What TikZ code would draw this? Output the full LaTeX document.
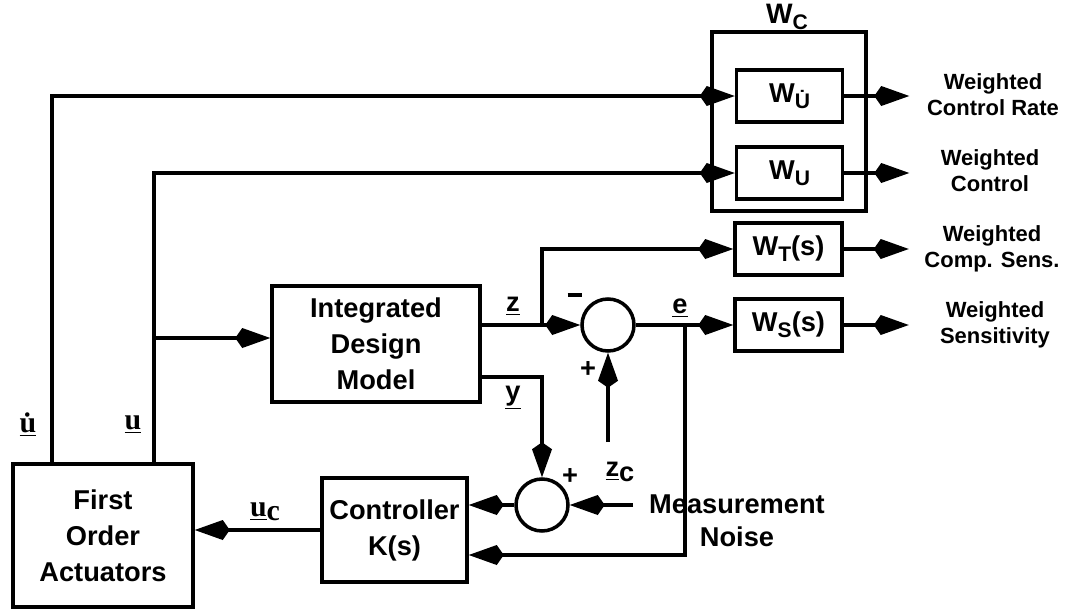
\documentclass[tikz,border=0pt]{standalone}
\usepackage{fontspec}
\setmainfont{Liberation Sans}
\newfontfamily\timesb{Liberation Serif}
\usetikzlibrary{calc,arrows.meta}
\newcommand{\wsub}[1]{W\raisebox{-0.4ex}{\fontsize{12}{12}\selectfont #1}}
\newcommand{\ulbl}[1]{{\timesb\bfseries\fontsize{17}{17}\selectfont\underline{#1}}}
\newcommand{\minus}{\rule[0.45ex]{0.55em}{2.2pt}}
\tikzset{
  blk/.style={draw, line width=2pt, align=center, inner sep=0pt},
  wbox/.style={blk, minimum width=2.12cm, minimum height=1.04cm,
    font=\bfseries\fontsize{15.5}{16}\selectfont},
  sumj/.style={draw, circle, line width=2pt, minimum size=1.04cm, inner sep=0pt},
  outtxt/.style={align=center, font=\bfseries\fontsize{12.5}{14.7}\selectfont},
  lbl/.style={inner sep=1pt}
}

\begin{document}
\begin{tikzpicture}[x=2cm,y=-2cm,line width=2pt,
    >={Kite[length=7mm,width=4mm,inset=1.4mm]},
    font=\bfseries\fontsize{15.5}{20.5}\selectfont]
        \useasboundingbox (0,0) rectangle (10.68,6.09);
        % blocks
        \node[blk, minimum width=3.6cm, minimum height=2.86cm] (act) at (1.03,5.355) {First\\Order\\Actuators};
        \node[blk, minimum width=2.9cm, minimum height=2.08cm] (ctrl) at (3.945,5.30) {Controller\\K(s)};
        \node[blk, minimum width=4.16cm, minimum height=2.32cm] (idm) at (3.76,3.44) {Integrated\\Design\\Model};
        \node[draw, minimum width=3.08cm, minimum height=3.58cm] (wc) at (7.89,1.215) {};
        \node[inner sep=0pt, font=\bfseries\fontsize{16}{16}\selectfont] (lwc) at (7.87,0.17) {\wsub{C}};
        \node[wbox] (wud) at (7.895,0.96) {\wsub{\.{U}}};
        \node[wbox] (wu) at (7.895,1.73) {\wsub{U}};
        \node[wbox, minimum width=2.14cm] (wt) at (7.885,2.49) {\wsub{T}(s)};
        \node[wbox, minimum width=2.14cm] (ws) at (7.885,3.25) {\wsub{S}(s)};
        \node[sumj] (s1) at (6.08,3.25) {};
        \node[sumj] (s2) at (5.42,5.05) {};
        % corners and free ends
        \coordinate (udot) at (0.52,0.96);
        \coordinate (ubr) at (1.54,1.73);
        \coordinate (uin) at (1.54,3.38);
        \coordinate (zbr) at (5.42,3.25);
        \coordinate (ebr) at (6.85,3.25);
        \coordinate (efb) at (6.85,5.55);
        \coordinate (ycor) at (5.42,3.77);
        \coordinate (zc) at (6.08,4.42);
        \coordinate (noise) at (6.33,5.05);
        % connectors
        \draw[->] (act.north -| udot) -- (udot) -- (wud.west);
        \draw[->] (act.north -| ubr) -- (ubr) -- (wu.west);
        \draw[->] (uin) -- (uin -| idm.west);
        \draw[->] (idm.east |- zbr) -- (s1.west);
        \draw[->] (zbr) |- (wt.west);
        \draw[->] (s1.east) -- (ws.west);
        \draw[->] (ebr) -- (efb) -- (efb -| ctrl.east);
        \draw[->] (zc) -- (s1.south);
        \draw[->] (idm.east |- ycor) -- (ycor) -- (s2.north);
        \draw[->] (noise) -- (s2.east);
        \draw[->] (s2.west) -- (s2 -| ctrl.east);
        \draw[->] (ctrl.west) -- (ctrl.west -| act.east);
        \foreach \b in {wud,wu,wt,ws}
          \draw[->] (\b.east) -- ++(0.65,0);
        % signal labels
        \node[lbl] (lud) at (0.28,4.25) {\ulbl{\.{u}}};
        \node[lbl] (lu) at (1.33,4.25) {\ulbl{u}};
        \node[lbl] (luc) at (2.65,5.12) {\ulbl{u}\raisebox{-0.3ex}{\timesb\bfseries\fontsize{17}{17}\selectfont c}};
        \node[lbl] (lz) at (5.13,3.06) {\underline{z}};
        \node[lbl] (le) at (6.80,3.08) {\underline{e}};
        \node[lbl] (ly) at (5.13,3.98) {\underline{y}};
        \node[lbl] (lzc) at (6.20,4.72) {\underline{z}\raisebox{-0.35ex}{c}};
        \node[lbl] (m1) at (5.75,2.98) {\minus};
        \node[lbl] (p1) at (5.88,3.70) {+};
        \node[lbl] (p2) at (5.70,4.77) {+};
        \node[align=center, font=\bfseries\fontsize{15.5}{18.7}\selectfont] (lnoise) at (7.37,5.21) {Measurement\\Noise};
        % outputs
        \node[outtxt] (o1) at (9.93,0.95) {Weighted\\Control Rate};
        \node[outtxt] (o2) at (9.90,1.71) {Weighted\\Control};
        \node[outtxt] (o3) at (9.92,2.49) {Weighted\\Comp. Sens.};
        \node[outtxt] (o4) at (9.95,3.25) {Weighted\\Sensitivity};
      \end{tikzpicture}
\end{document}
